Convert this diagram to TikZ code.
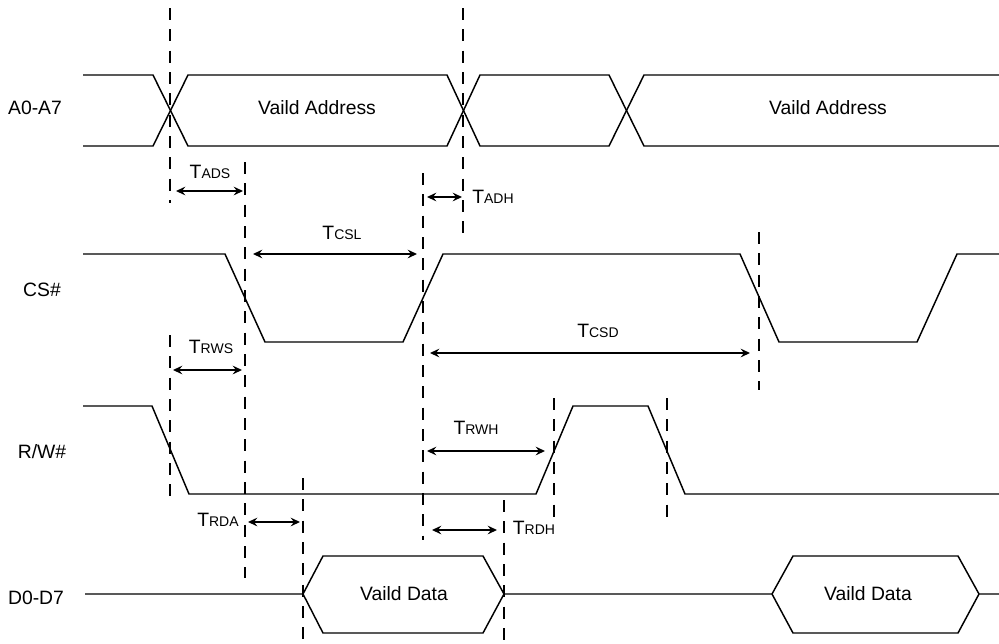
\documentclass[tikz,border=0pt]{standalone}
\usepackage{fontspec}
\setmainfont{Liberation Sans}
\usepackage{tikz}
\usetikzlibrary{arrows.meta}
\tikzstyle{sig} = [line width=1.1pt, line join=miter]
\tikzstyle{guide} = [line width=0.9pt, dash pattern=on 9pt off 7pt]
\tikzstyle{arrow} = [line width=1.1pt,{Stealth[length=7pt,width=6.5pt,inset=2.5pt]}-{Stealth[length=7pt,width=6.5pt,inset=2.5pt]}]
\tikzstyle{lbl} = [inner sep=0pt, font=\fontsize{14.5}{17}\selectfont]
\newcommand{\tlbl}[1]{T{\fontsize{10.5}{12}\selectfont #1}}

\begin{document}
\begin{tikzpicture}[x=0.75pt, y=-0.75pt]
    \useasboundingbox (0,0) rectangle (999,643);
    % signal names
    \node (NameAddr) [lbl] at (35,108) {A0-A7};
    \node (NameCs) [lbl] at (42,290) {CS\#};
    \node (NameRw) [lbl] at (42,452) {R/W\#};
    \node (NameData) [lbl] at (36,598) {D0-D7};
    % address bus
    \draw [sig] (83,75) -- (153,75) -- (188,146) -- (447,146) -- (480,75) -- (609,75) -- (644,146) -- (999,146);
    \draw [sig] (83,146) -- (153,146) -- (188,75) -- (447,75) -- (480,146) -- (609,146) -- (644,75) -- (999,75);
    \node (AddrA) [lbl] at (317,108) {Vaild Address};
    \node (AddrB) [lbl] at (828,108) {Vaild Address};
    % CS#
    \draw [sig] (83,254) -- (225,254) -- (265,342) -- (403,342) -- (443,254) -- (740,254) -- (779,342) -- (917,342) -- (957,254) -- (999,254);
    % R/W#
    \draw [sig] (83,406) -- (152,406) -- (189,494) -- (536,494) -- (573,406) -- (648,406) -- (685,494) -- (999,494);
    % data bus
    \draw [sig] (85,594) -- (303,594) -- (323,556) -- (483,556) -- (504,594) -- (772,594) -- (793,556) -- (958,556) -- (979,594) -- (999,594);
    \draw [sig] (303,594) -- (323,633) -- (483,633) -- (504,594);
    \draw [sig] (772,594) -- (793,633) -- (958,633) -- (979,594);
    \node (DataA) [lbl] at (404,594) {Vaild Data};
    \node (DataB) [lbl] at (868,594) {Vaild Data};
    % dashed guides
    \draw [guide] (170,8) -- (170,203);
    \draw [guide] (170,335) -- (170,498);
    \draw [guide] (463,8) -- (463,237);
    \draw [guide] (245,162) -- (245,578);
    \draw [guide] (423,173) -- (423,540);
    \draw [guide] (759,232) -- (759,390);
    \draw [guide] (554,398) -- (554,520);
    \draw [guide] (667,398) -- (667,520);
    \draw [guide] (303,478) -- (303,643);
    \draw [guide] (504,500) -- (504,643);
    % timing arrows
    \coordinate (AdsL) at (176,191); \coordinate (AdsR) at (243,191);
    \coordinate (AdhL) at (427,197); \coordinate (AdhR) at (462,197);
    \coordinate (CslL) at (253,254); \coordinate (CslR) at (417,254);
    \coordinate (CsdL) at (430,353); \coordinate (CsdR) at (750,353);
    \coordinate (RwsL) at (173,370); \coordinate (RwsR) at (242,370);
    \coordinate (RwhL) at (427,451); \coordinate (RwhR) at (545,451);
    \coordinate (RdaL) at (248,522); \coordinate (RdaR) at (300,522);
    \coordinate (RdhL) at (432,530); \coordinate (RdhR) at (497,530);
    \draw [arrow] (AdsL) -- (AdsR);
    \draw [arrow] (AdhL) -- (AdhR);
    \draw [arrow] (CslL) -- (CslR);
    \draw [arrow] (CsdL) -- (CsdR);
    \draw [arrow] (RwsL) -- (RwsR);
    \draw [arrow] (RwhL) -- (RwhR);
    \draw [arrow] (RdaL) -- (RdaR);
    \draw [arrow] (RdhL) -- (RdhR);
    \node (Tads) [lbl] at (210,172) {\tlbl{ADS}};
    \node (Tadh) [lbl, anchor=west] at (472,197) {\tlbl{ADH}};
    \node (Tcsl) [lbl] at (342,233) {\tlbl{CSL}};
    \node (Tcsd) [lbl] at (598,331) {\tlbl{CSD}};
    \node (Trws) [lbl] at (211,347) {\tlbl{RWS}};
    \node (Trwh) [lbl] at (476,428) {\tlbl{RWH}};
    \node (Trda) [lbl] at (218,520) {\tlbl{RDA}};
    \node (Trdh) [lbl] at (534,528) {\tlbl{RDH}};
\end{tikzpicture}
\end{document}
